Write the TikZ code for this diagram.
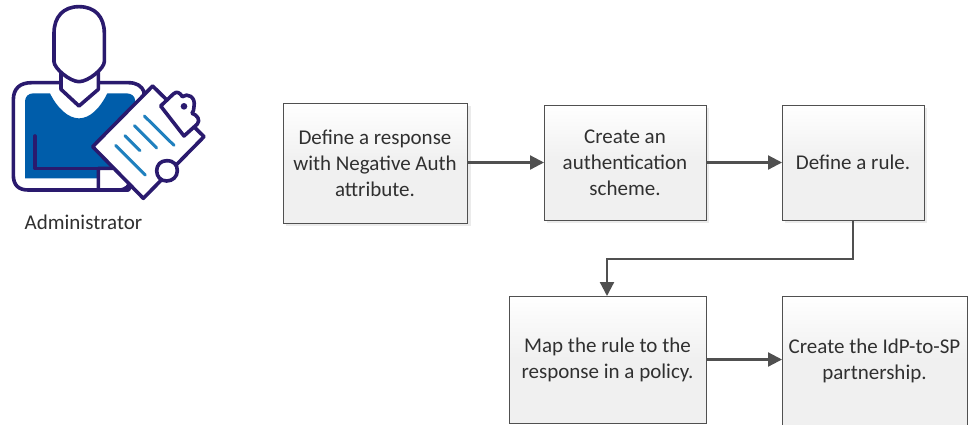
\documentclass[tikz,border=0pt]{standalone}
\usepackage{fontspec}
\setmainfont{Carlito}
\usetikzlibrary{arrows.meta}
\definecolor{edge}{HTML}{505050}
\definecolor{ink}{HTML}{2A1A6E}
\definecolor{shirt}{HTML}{005DAA}
\definecolor{lines}{HTML}{2080BE}
\definecolor{txt}{HTML}{303030}
\tikzset{
  stepbox/.style={draw=edge,line width=1pt,outer sep=0pt,top color=white,bottom color=black!6,middle color=black!6,shading angle=0,anchor=north west,align=center,text=txt,font=\fontsize{21}{26}\selectfont,inner sep=0pt},
  link/.style={draw=edge,line width=2.2pt,-{Triangle[length=14pt,width=14pt]}},
  shadowbox/.style={fill=black!8,draw=none},
  icon/.style={draw=ink,line width=3.6pt,line join=round}
}
\begin{document}
\begin{tikzpicture}[x=1pt,y=-1pt]
\useasboundingbox (0,0) rectangle (971,424);
\fill[white] (0,0) rectangle (971,424);
% shadows
\fill[shadowbox] (286,106) rectangle (470.5,226);
\fill[shadowbox] (547,108) rectangle (709,223);
\fill[shadowbox] (785,108) rectangle (927,223);
% boxes
\node[stepbox,minimum width=184pt,minimum height=120pt] (a) at (283,103) {Define a response\\with Negative Auth\\attribute.};
\node[stepbox,minimum width=162pt,minimum height=115pt] (b) at (544,105) {Create an\\authentication\\scheme.};
\node[stepbox,minimum width=142pt,minimum height=115pt] (c) at (782,105) {Define a rule.};
\node[stepbox,minimum width=197pt,minimum height=127pt] (d) at (509,296) {Map the rule to the\\response in a policy.};
\node[stepbox,minimum width=185pt,minimum height=129pt] (e) at (782,296) {Create the IdP-to-SP\\partnership.};
\coordinate (turn) at (607,259);
\draw[link] (a.east |- b.west) -- (b.west);
\draw[link] (b.east) -- (c.west);
\draw[link] (c.south) |- (turn) -- (turn |- d.north);
\draw[link] (d.east) -- (e.west |- d.east);
% icon
\begin{scope}[x=0.33333pt,y=0.33333pt,yscale=-1]
% torso outline
\draw[icon,fill=white] (95,248) -- (385,248) .. controls (410,248) and (425,258) .. (432,275) -- (432,500) -- (385,570) -- (85,570) .. controls (55,570) and (40,555) .. (40,525) -- (40,300) .. controls (40,265) and (60,248) .. (95,248) -- cycle;
% shirt
\fill[shirt] (100,280) -- (150,280) .. controls (172,325) and (205,355) .. (237,355) .. controls (270,355) and (300,325) .. (322,280) -- (380,280) .. controls (395,280) and (405,290) .. (405,300) -- (405,535) -- (75,535) -- (75,305) .. controls (75,290) and (85,280) .. (100,280) -- cycle;
% arm line
\draw[icon,line cap=round] (105,408) -- (105,505) -- (350,505);
% cuff
\draw[icon,fill=white] (295,505) -- (355,505) .. controls (380,505) and (390,522) .. (390,540) .. controls (390,558) and (378,570) .. (355,570) -- (295,570) -- cycle;
% neck
\draw[icon,fill=white] (183,205) -- (183,268) -- (237,318) -- (295,268) -- (295,205) -- cycle;
% head
\draw[icon,fill=white] (237,20) .. controls (285,20) and (313,50) .. (313,100) -- (313,185) .. controls (313,205) and (265,245) .. (237,245) .. controls (210,245) and (162,205) .. (162,185) -- (162,100) .. controls (162,50) and (190,20) .. (237,20) -- cycle;
% clipboard
\draw[icon,fill=white] (458,258) -- (612,410) -- (430,595) -- (278,440) -- cycle;
% clip
\draw[icon,fill=white] (482,318) -- (520,282) .. controls (530,272) and (540,278) .. (547,290) .. controls (562,278) and (588,290) .. (582,320) .. controls (582,328) and (580,335) .. (576,340) .. controls (592,345) and (602,360) .. (592,372) -- (552,408) -- cycle;
\fill[ink] (552,319) circle (10);
% clasp
\draw[icon,fill=white] (500,482) .. controls (522,482) and (532,495) .. (532,512) .. controls (532,530) and (518,543) .. (500,543) .. controls (482,543) and (470,530) .. (470,512) .. controls (470,495) and (482,482) .. (500,482) -- cycle;
% text lines
\draw[lines,line width=3pt,line cap=round] (433,348) -- (522,436) (403,377) -- (470,444) (375,407) -- (420,452) (347,436) -- (436,525);
\end{scope}
\node[anchor=center,text=txt,font=\fontsize{21}{24}\selectfont,inner sep=0pt] (lbl) at (83.5,222) {Administrator};
\end{tikzpicture}
\end{document}
